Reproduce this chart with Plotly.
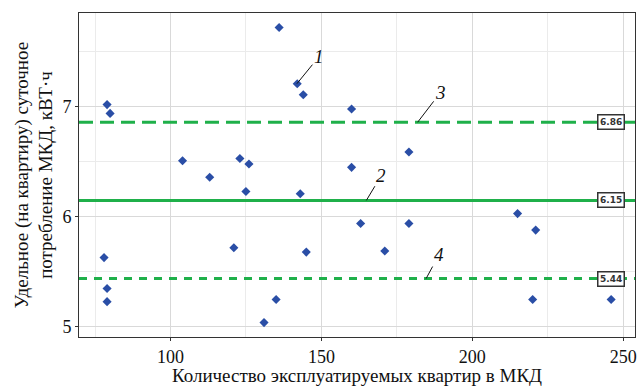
import plotly.graph_objects as go

# Data
apartments = [79, 80, 104, 136, 142, 144, 160, 179, 160, 143, 78, 79, 79, 113,
              123, 126, 125, 121, 145, 135, 131, 163, 179, 171, 215, 221, 220, 246]
consumption = [7.02, 6.94, 6.51, 7.72, 7.21, 7.11, 6.98, 6.59, 6.45, 6.21, 5.63, 5.35,
               5.23, 6.36, 6.53, 6.48, 6.23, 5.72, 5.68, 5.25, 5.04, 5.94, 5.94, 5.69,
               6.03, 5.88, 5.25, 5.25]

mean_level = 6.15
upper_level = 6.86
lower_level = 5.44
level_labels = ["6.86", "6.15", "5.44"]
label_x = 246

x_range = [69.7, 253.9]
y_range = [4.909, 7.852]
x_ticks = [100, 150, 200, 250]
y_ticks = [5, 6, 7]

# leader annotations: (text, x tip, y tip, ax, ay)
callouts = [("1", 141.9, 7.21, 22, -27),
            ("2", 164.9, mean_level, 15, -25),
            ("3", 181.9, upper_level, 23, -30),
            ("4", 184.7, lower_level, 13, -24)]

green = "#1fb04a"
blue = "#2a4ea6"
serif = "Liberation Serif, Times New Roman, serif"

fig = go.Figure()

fig.add_trace(go.Scatter(
    x=apartments, y=consumption, mode="markers",
    marker=dict(symbol="diamond", size=7, color=blue),
    showlegend=False, hoverinfo="skip"))

for lvl, dash in [(upper_level, "14px,7px"), (mean_level, "solid"), (lower_level, "8px,7px")]:
    fig.add_trace(go.Scatter(
        x=x_range, y=[lvl, lvl], mode="lines",
        line=dict(color=green, width=3, dash=dash),
        showlegend=False, hoverinfo="skip"))

annotations = []
for lvl, txt in zip([upper_level, mean_level, lower_level], level_labels):
    annotations.append(dict(
        x=label_x, y=lvl, xref="x", yref="y", text="<b>" + txt + "</b>",
        showarrow=False, font=dict(family="DejaVu Sans, Arial", size=9, color="#333333"),
        bgcolor="white", bordercolor="#333333", borderwidth=1.5, borderpad=1.5))

for txt, cx, cy, ax, ay in callouts:
    annotations.append(dict(
        x=cx, y=cy, xref="x", yref="y", text="<i>" + txt + "</i>",
        showarrow=True, arrowhead=0, arrowwidth=1, arrowcolor="#111111",
        ax=ax, ay=ay, standoff=0, startstandoff=0,
        font=dict(family=serif, size=19, color="#111111")))

fig.update_layout(
    width=641, height=386,
    margin=dict(l=79, r=4, t=13, b=49),
    paper_bgcolor="white", plot_bgcolor="white",
    font=dict(family=serif, size=17, color="#111111"),
    annotations=annotations,
)

fig.update_xaxes(
    range=x_range, tickvals=x_ticks, showgrid=True, gridcolor="#d9d9d9", gridwidth=1,
    minor=dict(dtick=25, tick0=0, showgrid=True, gridcolor="#ebebeb", gridwidth=1, ticks=""),
    ticks="outside", ticklen=3, tickcolor="#333333",
    showline=True, linecolor="#333333", linewidth=1, mirror=True, zeroline=False,
    tickfont=dict(family=serif, size=18, color="#111111"),
    title=dict(text="Количество эксплуатируемых квартир в МКД",
               font=dict(family=serif, size=19, color="#111111"), standoff=2),
)
fig.update_yaxes(
    range=y_range, tickvals=y_ticks, showgrid=True, gridcolor="#d9d9d9", gridwidth=1,
    minor=dict(dtick=0.5, tick0=0, showgrid=True, gridcolor="#ebebeb", gridwidth=1, ticks=""),
    ticks="outside", ticklen=3, tickcolor="#333333",
    showline=True, linecolor="#333333", linewidth=1, mirror=True, zeroline=False,
    tickfont=dict(family=serif, size=18, color="#111111"),
    title=dict(text="Удельное (на квартиру) суточное<br>потребление МКД, кВТ·ч",
               font=dict(family=serif, size=19, color="#111111"), standoff=4),
)

fig.write_html("out.html")
